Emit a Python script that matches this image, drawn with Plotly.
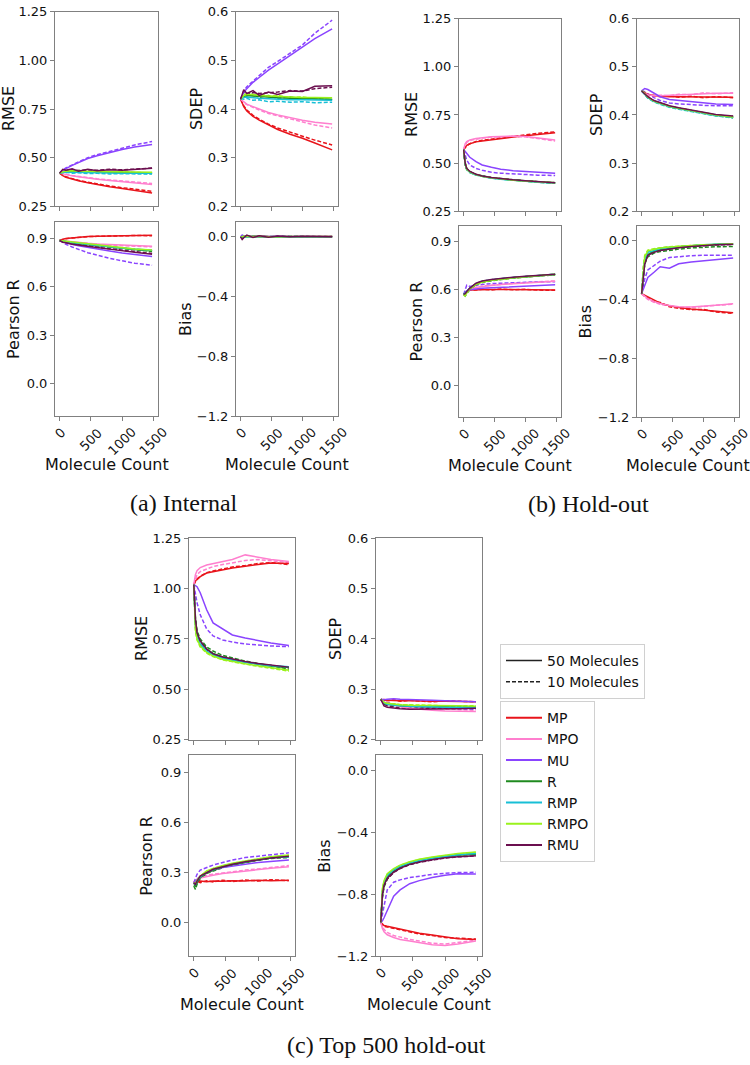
import plotly.graph_objects as go

# ---------------- data ----------------
MODELS = ["MP", "MPO", "MU", "R", "RMP", "RMPO", "RMU"]
COLORS = {"MP": "#e8141b", "MPO": "#ff7fce", "MU": "#8a44ff", "R": "#1f8a1f",
          "RMP": "#18bfd6", "RMPO": "#9af21c", "RMU": "#6b0f4f"}
X_COUNT = [0, 25, 50, 100, 200, 300, 450, 600, 800, 1000, 1200, 1480]
X_TICKS = [0, 500, 1000, 1500]

# ---- (a) Internal ----
A_RMSE_50 = {
    "MP":   [0.42, 0.413, 0.407, 0.399, 0.389, 0.381, 0.37, 0.36, 0.35, 0.341, 0.331, 0.318],
    "MPO":  [0.42, 0.418, 0.416, 0.412, 0.406, 0.401, 0.394, 0.388, 0.382, 0.377, 0.372, 0.362],
    "MU":   [0.42, 0.427, 0.433, 0.443, 0.46, 0.475, 0.495, 0.51, 0.527, 0.542, 0.555, 0.568],
    "R":    [0.42, 0.423, 0.425, 0.428, 0.43, 0.428, 0.426, 0.425, 0.424, 0.423, 0.422, 0.421],
    "RMP":  [0.42, 0.422, 0.424, 0.426, 0.425, 0.424, 0.422, 0.421, 0.42, 0.42, 0.419, 0.419],
    "RMPO": [0.42, 0.424, 0.427, 0.43, 0.432, 0.43, 0.429, 0.428, 0.427, 0.426, 0.425, 0.424],
    "RMU":  [0.42, 0.43, 0.44, 0.435, 0.442, 0.43, 0.44, 0.432, 0.438, 0.435, 0.44, 0.445],
}
A_RMSE_10 = {
    "MP":   [0.42, 0.414, 0.409, 0.401, 0.391, 0.383, 0.373, 0.364, 0.354, 0.345, 0.336, 0.326],
    "MPO":  [0.42, 0.419, 0.417, 0.414, 0.408, 0.403, 0.397, 0.391, 0.385, 0.379, 0.373, 0.367],
    "MU":   [0.42, 0.43, 0.436, 0.447, 0.462, 0.48, 0.5, 0.515, 0.533, 0.548, 0.565, 0.583],
    "R":    [0.42, 0.425, 0.428, 0.43, 0.427, 0.432, 0.425, 0.428, 0.423, 0.425, 0.42, 0.418],
    "RMP":  [0.42, 0.423, 0.422, 0.424, 0.42, 0.422, 0.418, 0.419, 0.416, 0.417, 0.415, 0.415],
    "RMPO": [0.42, 0.426, 0.43, 0.433, 0.429, 0.434, 0.428, 0.43, 0.425, 0.427, 0.423, 0.422],
    "RMU":  [0.42, 0.428, 0.435, 0.432, 0.438, 0.433, 0.436, 0.435, 0.44, 0.437, 0.442, 0.446],
}
A_SDEP_50 = {
    "MP":   [0.42, 0.412, 0.405, 0.396, 0.385, 0.377, 0.367, 0.358, 0.348, 0.34, 0.33, 0.316],
    "MPO":  [0.42, 0.417, 0.414, 0.41, 0.405, 0.4, 0.393, 0.388, 0.382, 0.377, 0.373, 0.369],
    "MU":   [0.42, 0.428, 0.434, 0.442, 0.455, 0.465, 0.48, 0.493, 0.51, 0.527, 0.545, 0.565],
    "R":    [0.42, 0.424, 0.426, 0.428, 0.427, 0.425, 0.424, 0.423, 0.422, 0.421, 0.421, 0.42],
    "RMP":  [0.42, 0.422, 0.424, 0.425, 0.423, 0.422, 0.421, 0.42, 0.419, 0.419, 0.418, 0.418],
    "RMPO": [0.42, 0.425, 0.428, 0.43, 0.43, 0.428, 0.427, 0.426, 0.425, 0.424, 0.424, 0.423],
    "RMU":  [0.42, 0.432, 0.44, 0.432, 0.438, 0.428, 0.435, 0.43, 0.437, 0.436, 0.447, 0.448],
}
A_SDEP_10 = {
    "MP":   [0.42, 0.413, 0.407, 0.398, 0.387, 0.379, 0.369, 0.361, 0.352, 0.344, 0.336, 0.326],
    "MPO":  [0.42, 0.416, 0.413, 0.409, 0.403, 0.398, 0.391, 0.386, 0.379, 0.373, 0.367, 0.361],
    "MU":   [0.42, 0.43, 0.437, 0.446, 0.458, 0.47, 0.486, 0.498, 0.515, 0.532, 0.556, 0.583],
    "R":    [0.42, 0.425, 0.43, 0.426, 0.431, 0.424, 0.428, 0.422, 0.425, 0.421, 0.422, 0.419],
    "RMP":  [0.42, 0.421, 0.42, 0.422, 0.418, 0.419, 0.415, 0.416, 0.414, 0.415, 0.413, 0.414],
    "RMPO": [0.42, 0.426, 0.43, 0.432, 0.428, 0.431, 0.426, 0.428, 0.423, 0.425, 0.421, 0.42],
    "RMU":  [0.42, 0.43, 0.436, 0.43, 0.434, 0.432, 0.433, 0.435, 0.438, 0.437, 0.442, 0.445],
}
A_PEARSON_50 = {
    "MP":   [0.885, 0.89, 0.893, 0.897, 0.902, 0.906, 0.91, 0.912, 0.914, 0.916, 0.917, 0.918],
    "MPO":  [0.885, 0.884, 0.882, 0.88, 0.876, 0.872, 0.868, 0.864, 0.86, 0.856, 0.853, 0.85],
    "MU":   [0.885, 0.882, 0.878, 0.872, 0.862, 0.853, 0.842, 0.832, 0.82, 0.808, 0.797, 0.786],
    "R":    [0.885, 0.883, 0.881, 0.878, 0.872, 0.867, 0.86, 0.853, 0.845, 0.837, 0.829, 0.82],
    "RMP":  [0.885, 0.883, 0.881, 0.878, 0.873, 0.868, 0.861, 0.855, 0.847, 0.839, 0.832, 0.825],
    "RMPO": [0.885, 0.884, 0.882, 0.879, 0.874, 0.869, 0.862, 0.856, 0.848, 0.84, 0.833, 0.826],
    "RMU":  [0.885, 0.88, 0.875, 0.872, 0.862, 0.858, 0.848, 0.842, 0.832, 0.824, 0.812, 0.8],
}
A_PEARSON_10 = {
    "MP":   [0.885, 0.889, 0.892, 0.896, 0.901, 0.905, 0.909, 0.911, 0.913, 0.915, 0.916, 0.915],
    "MPO":  [0.885, 0.883, 0.881, 0.878, 0.874, 0.87, 0.865, 0.861, 0.857, 0.853, 0.85, 0.846],
    "MU":   [0.885, 0.878, 0.872, 0.862, 0.845, 0.83, 0.81, 0.795, 0.775, 0.76, 0.745, 0.732],
    "R":    [0.885, 0.882, 0.88, 0.877, 0.87, 0.866, 0.858, 0.851, 0.843, 0.834, 0.826, 0.818],
    "RMP":  [0.885, 0.882, 0.88, 0.876, 0.871, 0.866, 0.86, 0.853, 0.846, 0.838, 0.83, 0.824],
    "RMPO": [0.885, 0.883, 0.881, 0.878, 0.872, 0.867, 0.86, 0.854, 0.846, 0.838, 0.831, 0.823],
    "RMU":  [0.885, 0.881, 0.877, 0.873, 0.865, 0.858, 0.85, 0.843, 0.834, 0.825, 0.815, 0.805],
}
A_BIAS_50 = {
    "MP":   [0.0, 0.004, 0.002, 0.003, 0.001, 0.002, 0.001, 0.002, 0.001, 0.002, 0.001, 0.001],
    "MPO":  [0.0, 0.002, 0.003, 0.001, 0.002, 0.001, 0.002, 0.001, 0.002, 0.001, 0.001, 0.002],
    "MU":   [0.0, 0.01, 0.006, 0.004, 0.003, 0.002, 0.004, 0.002, 0.003, 0.002, 0.003, 0.002],
    "R":    [0.0, -0.004, 0.002, 0.003, 0.0, 0.002, 0.001, 0.0, 0.002, 0.001, 0.0, 0.001],
    "RMP":  [0.0, 0.002, -0.002, 0.001, 0.002, 0.0, 0.001, 0.002, 0.0, 0.001, 0.001, 0.0],
    "RMPO": [0.0, 0.003, 0.004, 0.002, 0.001, 0.003, 0.002, 0.001, 0.002, 0.002, 0.001, 0.002],
    "RMU":  [0.0, -0.018, -0.006, 0.012, -0.004, 0.008, -0.002, 0.006, 0.0, 0.004, 0.002, 0.001],
}
A_BIAS_10 = {
    "MP":   [0.0, 0.006, 0.003, 0.005, 0.002, 0.004, 0.001, 0.003, 0.002, 0.003, 0.001, 0.002],
    "MPO":  [0.0, 0.003, 0.005, 0.002, 0.004, 0.002, 0.003, 0.001, 0.003, 0.002, 0.002, 0.003],
    "MU":   [0.0, 0.012, 0.008, 0.005, 0.004, 0.003, 0.005, 0.003, 0.004, 0.003, 0.004, 0.003],
    "R":    [0.0, -0.006, 0.004, 0.005, -0.002, 0.003, 0.001, -0.001, 0.003, 0.001, 0.0, 0.002],
    "RMP":  [0.0, 0.004, -0.004, 0.002, 0.003, -0.001, 0.002, 0.003, 0.0, 0.002, 0.001, 0.001],
    "RMPO": [0.0, 0.005, 0.006, 0.003, 0.002, 0.004, 0.003, 0.002, 0.003, 0.002, 0.002, 0.003],
    "RMU":  [0.0, -0.012, -0.004, 0.008, -0.003, 0.006, -0.001, 0.004, 0.001, 0.003, 0.002, 0.002],
}

# ---- (b) Hold-out ----
B_RMSE_50 = {
    "MP":   [0.57, 0.585, 0.592, 0.6, 0.61, 0.615, 0.622, 0.628, 0.635, 0.642, 0.65, 0.658],
    "MPO":  [0.57, 0.6, 0.612, 0.62, 0.628, 0.632, 0.636, 0.638, 0.64, 0.638, 0.63, 0.62],
    "MU":   [0.57, 0.56, 0.548, 0.53, 0.507, 0.49, 0.478, 0.468, 0.46, 0.456, 0.452, 0.447],
    "R":    [0.57, 0.5, 0.47, 0.455, 0.44, 0.432, 0.424, 0.418, 0.412, 0.407, 0.402, 0.397],
    "RMP":  [0.57, 0.495, 0.468, 0.452, 0.438, 0.43, 0.422, 0.416, 0.41, 0.405, 0.4, 0.396],
    "RMPO": [0.57, 0.5, 0.47, 0.454, 0.44, 0.431, 0.423, 0.417, 0.411, 0.406, 0.401, 0.397],
    "RMU":  [0.57, 0.5, 0.472, 0.456, 0.442, 0.433, 0.425, 0.419, 0.413, 0.408, 0.403, 0.398],
}
B_RMSE_10 = {
    "MP":   [0.57, 0.58, 0.59, 0.6, 0.612, 0.618, 0.624, 0.63, 0.638, 0.645, 0.655, 0.662],
    "MPO":  [0.57, 0.595, 0.608, 0.618, 0.625, 0.63, 0.635, 0.637, 0.638, 0.636, 0.628, 0.615],
    "MU":   [0.57, 0.54, 0.515, 0.49, 0.472, 0.462, 0.452, 0.447, 0.443, 0.44, 0.437, 0.435],
    "R":    [0.57, 0.49, 0.468, 0.452, 0.44, 0.431, 0.423, 0.418, 0.411, 0.406, 0.401, 0.395],
    "RMP":  [0.57, 0.49, 0.465, 0.45, 0.437, 0.429, 0.421, 0.416, 0.41, 0.405, 0.4, 0.395],
    "RMPO": [0.57, 0.488, 0.466, 0.451, 0.438, 0.43, 0.422, 0.417, 0.41, 0.406, 0.4, 0.396],
    "RMU":  [0.57, 0.495, 0.47, 0.455, 0.441, 0.432, 0.424, 0.418, 0.412, 0.407, 0.402, 0.398],
}
B_SDEP_50 = {
    "MP":   [0.45, 0.448, 0.446, 0.443, 0.44, 0.439, 0.438, 0.438, 0.438, 0.438, 0.437, 0.437],
    "MPO":  [0.45, 0.447, 0.445, 0.442, 0.44, 0.44, 0.441, 0.442, 0.443, 0.444, 0.445, 0.445],
    "MU":   [0.45, 0.452, 0.455, 0.453, 0.445, 0.438, 0.432, 0.43, 0.427, 0.425, 0.423, 0.422],
    "R":    [0.45, 0.447, 0.443, 0.437, 0.429, 0.424, 0.418, 0.414, 0.409, 0.404, 0.4, 0.396],
    "RMP":  [0.45, 0.446, 0.442, 0.436, 0.428, 0.423, 0.417, 0.413, 0.408, 0.403, 0.399, 0.395],
    "RMPO": [0.45, 0.448, 0.444, 0.437, 0.429, 0.424, 0.418, 0.414, 0.409, 0.404, 0.4, 0.396],
    "RMU":  [0.45, 0.447, 0.443, 0.438, 0.43, 0.425, 0.419, 0.415, 0.41, 0.405, 0.401, 0.398],
}
B_SDEP_10 = {
    "MP":   [0.45, 0.447, 0.444, 0.44, 0.441, 0.438, 0.44, 0.437, 0.439, 0.436, 0.438, 0.436],
    "MPO":  [0.45, 0.446, 0.444, 0.441, 0.439, 0.441, 0.44, 0.443, 0.442, 0.446, 0.444, 0.446],
    "MU":   [0.45, 0.45, 0.448, 0.444, 0.436, 0.43, 0.425, 0.423, 0.421, 0.42, 0.419, 0.419],
    "R":    [0.45, 0.448, 0.444, 0.436, 0.428, 0.423, 0.417, 0.413, 0.408, 0.403, 0.399, 0.394],
    "RMP":  [0.45, 0.447, 0.443, 0.435, 0.427, 0.422, 0.416, 0.412, 0.407, 0.402, 0.398, 0.394],
    "RMPO": [0.45, 0.449, 0.445, 0.437, 0.428, 0.423, 0.417, 0.413, 0.408, 0.403, 0.399, 0.395],
    "RMU":  [0.45, 0.448, 0.444, 0.437, 0.429, 0.424, 0.418, 0.414, 0.409, 0.404, 0.4, 0.397],
}
B_PEARSON_50 = {
    "MP":   [0.57, 0.58, 0.59, 0.598, 0.6, 0.6, 0.601, 0.601, 0.6, 0.6, 0.599, 0.598],
    "MPO":  [0.57, 0.58, 0.59, 0.6, 0.613, 0.62, 0.627, 0.632, 0.637, 0.642, 0.647, 0.652],
    "MU":   [0.57, 0.58, 0.59, 0.6, 0.605, 0.608, 0.612, 0.615, 0.62, 0.624, 0.627, 0.63],
    "R":    [0.57, 0.575, 0.585, 0.605, 0.635, 0.65, 0.66, 0.667, 0.674, 0.68, 0.687, 0.695],
    "RMP":  [0.57, 0.58, 0.59, 0.61, 0.638, 0.652, 0.662, 0.669, 0.676, 0.682, 0.689, 0.697],
    "RMPO": [0.57, 0.565, 0.58, 0.605, 0.633, 0.648, 0.659, 0.667, 0.674, 0.681, 0.688, 0.696],
    "RMU":  [0.57, 0.575, 0.588, 0.61, 0.64, 0.654, 0.664, 0.671, 0.678, 0.684, 0.69, 0.697],
}
B_PEARSON_10 = {
    "MP":   [0.57, 0.585, 0.595, 0.6, 0.597, 0.603, 0.598, 0.604, 0.599, 0.602, 0.597, 0.596],
    "MPO":  [0.57, 0.585, 0.595, 0.605, 0.615, 0.622, 0.628, 0.634, 0.639, 0.644, 0.649, 0.655],
    "MU":   [0.57, 0.6, 0.628, 0.62, 0.628, 0.633, 0.638, 0.641, 0.644, 0.646, 0.648, 0.65],
    "R":    [0.57, 0.56, 0.575, 0.6, 0.63, 0.645, 0.656, 0.664, 0.672, 0.679, 0.686, 0.693],
    "RMP":  [0.57, 0.575, 0.585, 0.607, 0.636, 0.65, 0.66, 0.668, 0.675, 0.681, 0.688, 0.696],
    "RMPO": [0.57, 0.56, 0.578, 0.603, 0.632, 0.647, 0.658, 0.666, 0.673, 0.68, 0.687, 0.695],
    "RMU":  [0.57, 0.572, 0.585, 0.607, 0.637, 0.652, 0.662, 0.669, 0.676, 0.682, 0.689, 0.696],
}
B_BIAS_50 = {
    "MP":   [-0.36, -0.365, -0.37, -0.385, -0.405, -0.425, -0.443, -0.455, -0.465, -0.472, -0.48, -0.49],
    "MPO":  [-0.36, -0.37, -0.38, -0.395, -0.415, -0.428, -0.442, -0.45, -0.452, -0.448, -0.44, -0.43],
    "MU":   [-0.36, -0.33, -0.3, -0.25, -0.215, -0.178, -0.188, -0.158, -0.145, -0.138, -0.13, -0.118],
    "R":    [-0.36, -0.25, -0.15, -0.095, -0.072, -0.062, -0.052, -0.045, -0.037, -0.03, -0.026, -0.022],
    "RMP":  [-0.36, -0.22, -0.13, -0.08, -0.065, -0.055, -0.047, -0.041, -0.035, -0.029, -0.025, -0.021],
    "RMPO": [-0.36, -0.2, -0.11, -0.07, -0.058, -0.05, -0.044, -0.039, -0.034, -0.029, -0.026, -0.022],
    "RMU":  [-0.36, -0.26, -0.16, -0.1, -0.08, -0.068, -0.056, -0.048, -0.04, -0.033, -0.029, -0.025],
}
B_BIAS_10 = {
    "MP":   [-0.36, -0.37, -0.378, -0.39, -0.415, -0.42, -0.45, -0.46, -0.47, -0.468, -0.485, -0.495],
    "MPO":  [-0.36, -0.372, -0.383, -0.4, -0.42, -0.433, -0.445, -0.455, -0.455, -0.45, -0.44, -0.432],
    "MU":   [-0.36, -0.3, -0.26, -0.2, -0.17, -0.14, -0.115, -0.108, -0.103, -0.1, -0.098, -0.1],
    "R":    [-0.36, -0.24, -0.16, -0.11, -0.085, -0.075, -0.065, -0.058, -0.05, -0.045, -0.042, -0.04],
    "RMP":  [-0.36, -0.2, -0.12, -0.075, -0.06, -0.05, -0.045, -0.04, -0.035, -0.03, -0.027, -0.024],
    "RMPO": [-0.36, -0.18, -0.1, -0.065, -0.055, -0.048, -0.042, -0.038, -0.033, -0.029, -0.026, -0.023],
    "RMU":  [-0.36, -0.24, -0.15, -0.095, -0.075, -0.064, -0.054, -0.047, -0.039, -0.033, -0.03, -0.027],
}

# ---- (c) Top 500 hold-out ----
C_RMSE_50 = {
    "MP":   [1.02, 1.04, 1.045, 1.06, 1.078, 1.085, 1.095, 1.103, 1.112, 1.12, 1.128, 1.125],
    "MPO":  [1.02, 1.07, 1.09, 1.105, 1.118, 1.125, 1.135, 1.145, 1.168, 1.155, 1.145, 1.135],
    "MU":   [1.02, 1.015, 1.01, 0.98, 0.895, 0.83, 0.8, 0.77, 0.755, 0.742, 0.73, 0.718],
    "R":    [1.02, 0.84, 0.78, 0.74, 0.7, 0.678, 0.66, 0.648, 0.637, 0.626, 0.617, 0.608],
    "RMP":  [1.02, 0.82, 0.76, 0.725, 0.69, 0.672, 0.655, 0.645, 0.634, 0.625, 0.618, 0.612],
    "RMPO": [1.02, 0.8, 0.75, 0.715, 0.683, 0.665, 0.648, 0.638, 0.627, 0.617, 0.606, 0.594],
    "RMU":  [1.02, 0.85, 0.78, 0.74, 0.7, 0.676, 0.66, 0.65, 0.638, 0.628, 0.619, 0.61],
}
C_RMSE_10 = {
    "MP":   [1.02, 1.035, 1.048, 1.062, 1.08, 1.088, 1.098, 1.108, 1.115, 1.125, 1.13, 1.12],
    "MPO":  [1.02, 1.05, 1.07, 1.085, 1.098, 1.11, 1.12, 1.13, 1.14, 1.145, 1.14, 1.13],
    "MU":   [1.02, 0.98, 0.93, 0.87, 0.8, 0.765, 0.745, 0.735, 0.725, 0.72, 0.715, 0.712],
    "R":    [1.02, 0.86, 0.79, 0.75, 0.71, 0.69, 0.668, 0.655, 0.64, 0.628, 0.615, 0.6],
    "RMP":  [1.02, 0.81, 0.755, 0.72, 0.688, 0.668, 0.652, 0.642, 0.632, 0.622, 0.614, 0.61],
    "RMPO": [1.02, 0.79, 0.745, 0.71, 0.68, 0.662, 0.646, 0.636, 0.625, 0.614, 0.603, 0.59],
    "RMU":  [1.02, 0.84, 0.775, 0.735, 0.697, 0.675, 0.658, 0.648, 0.636, 0.626, 0.617, 0.608],
}
C_SDEP_50 = {
    "MP":   [0.28, 0.279, 0.278, 0.278, 0.277, 0.277, 0.277, 0.276, 0.276, 0.276, 0.275, 0.275],
    "MPO":  [0.28, 0.277, 0.275, 0.272, 0.268, 0.265, 0.262, 0.26, 0.258, 0.257, 0.256, 0.256],
    "MU":   [0.28, 0.279, 0.279, 0.28, 0.281, 0.28, 0.279, 0.278, 0.278, 0.277, 0.276, 0.275],
    "R":    [0.28, 0.275, 0.272, 0.27, 0.268, 0.267, 0.266, 0.266, 0.265, 0.265, 0.264, 0.264],
    "RMP":  [0.28, 0.276, 0.273, 0.27, 0.268, 0.267, 0.266, 0.265, 0.265, 0.264, 0.264, 0.264],
    "RMPO": [0.28, 0.276, 0.274, 0.272, 0.27, 0.269, 0.268, 0.268, 0.267, 0.267, 0.267, 0.266],
    "RMU":  [0.28, 0.272, 0.267, 0.264, 0.262, 0.261, 0.26, 0.26, 0.26, 0.261, 0.261, 0.262],
}
C_SDEP_10 = {
    "MP":   [0.28, 0.278, 0.28, 0.277, 0.279, 0.276, 0.278, 0.277, 0.275, 0.277, 0.276, 0.275],
    "MPO":  [0.28, 0.278, 0.276, 0.274, 0.27, 0.268, 0.266, 0.264, 0.262, 0.261, 0.26, 0.258],
    "MU":   [0.28, 0.277, 0.275, 0.273, 0.27, 0.268, 0.266, 0.265, 0.264, 0.263, 0.262, 0.26],
    "R":    [0.28, 0.276, 0.274, 0.271, 0.27, 0.268, 0.268, 0.267, 0.266, 0.266, 0.265, 0.265],
    "RMP":  [0.28, 0.275, 0.272, 0.27, 0.267, 0.266, 0.265, 0.265, 0.264, 0.264, 0.263, 0.263],
    "RMPO": [0.28, 0.277, 0.275, 0.272, 0.27, 0.269, 0.269, 0.268, 0.268, 0.267, 0.267, 0.267],
    "RMU":  [0.28, 0.274, 0.27, 0.267, 0.265, 0.263, 0.262, 0.262, 0.262, 0.262, 0.262, 0.262],
}
C_PEARSON_50 = {
    "MP":   [0.24, 0.25, 0.245, 0.25, 0.245, 0.25, 0.248, 0.252, 0.25, 0.255, 0.252, 0.255],
    "MPO":  [0.24, 0.25, 0.26, 0.268, 0.278, 0.285, 0.295, 0.302, 0.31, 0.318, 0.326, 0.335],
    "MU":   [0.24, 0.25, 0.265, 0.28, 0.3, 0.315, 0.33, 0.34, 0.35, 0.36, 0.368, 0.375],
    "R":    [0.23, 0.22, 0.24, 0.27, 0.3, 0.315, 0.335, 0.348, 0.362, 0.378, 0.39, 0.395],
    "RMP":  [0.24, 0.23, 0.25, 0.275, 0.305, 0.32, 0.338, 0.352, 0.366, 0.38, 0.39, 0.395],
    "RMPO": [0.24, 0.235, 0.255, 0.28, 0.31, 0.325, 0.342, 0.356, 0.37, 0.384, 0.395, 0.405],
    "RMU":  [0.24, 0.23, 0.25, 0.28, 0.3, 0.32, 0.335, 0.35, 0.365, 0.378, 0.388, 0.398],
}
C_PEARSON_10 = {
    "MP":   [0.24, 0.235, 0.25, 0.24, 0.252, 0.244, 0.255, 0.247, 0.256, 0.25, 0.258, 0.252],
    "MPO":  [0.24, 0.255, 0.265, 0.275, 0.285, 0.29, 0.298, 0.305, 0.315, 0.322, 0.33, 0.342],
    "MU":   [0.24, 0.27, 0.29, 0.315, 0.33, 0.345, 0.36, 0.375, 0.39, 0.398, 0.405, 0.418],
    "R":    [0.22, 0.2, 0.23, 0.265, 0.295, 0.31, 0.33, 0.345, 0.36, 0.375, 0.385, 0.39],
    "RMP":  [0.24, 0.225, 0.245, 0.272, 0.302, 0.318, 0.336, 0.35, 0.364, 0.378, 0.389, 0.396],
    "RMPO": [0.24, 0.23, 0.25, 0.278, 0.308, 0.324, 0.34, 0.355, 0.369, 0.383, 0.394, 0.404],
    "RMU":  [0.24, 0.228, 0.248, 0.277, 0.299, 0.318, 0.334, 0.349, 0.364, 0.377, 0.387, 0.396],
}
C_BIAS_50 = {
    "MP":   [-0.98, -0.99, -1.0, -1.005, -1.015, -1.025, -1.04, -1.05, -1.062, -1.075, -1.085, -1.09],
    "MPO":  [-0.98, -1.02, -1.04, -1.06, -1.078, -1.09, -1.1, -1.11, -1.125, -1.13, -1.12, -1.1],
    "MU":   [-0.98, -0.97, -0.95, -0.9, -0.81, -0.77, -0.73, -0.71, -0.69, -0.675, -0.665, -0.667],
    "R":    [-0.98, -0.8, -0.74, -0.69, -0.65, -0.625, -0.6, -0.585, -0.568, -0.555, -0.545, -0.54],
    "RMP":  [-0.98, -0.78, -0.72, -0.675, -0.64, -0.618, -0.595, -0.58, -0.565, -0.552, -0.542, -0.535],
    "RMPO": [-0.98, -0.76, -0.71, -0.665, -0.632, -0.61, -0.588, -0.572, -0.558, -0.545, -0.535, -0.525],
    "RMU":  [-0.98, -0.8, -0.74, -0.695, -0.655, -0.63, -0.605, -0.59, -0.575, -0.562, -0.555, -0.55],
}
C_BIAS_10 = {
    "MP":   [-0.98, -1.0, -1.005, -1.01, -1.02, -1.03, -1.045, -1.055, -1.065, -1.078, -1.082, -1.088],
    "MPO":  [-0.98, -1.01, -1.025, -1.045, -1.065, -1.075, -1.09, -1.1, -1.115, -1.12, -1.11, -1.095],
    "MU":   [-0.98, -0.93, -0.88, -0.77, -0.72, -0.705, -0.69, -0.68, -0.67, -0.663, -0.658, -0.656],
    "R":    [-0.98, -0.82, -0.75, -0.7, -0.655, -0.63, -0.605, -0.59, -0.57, -0.556, -0.545, -0.537],
    "RMP":  [-0.98, -0.79, -0.73, -0.68, -0.645, -0.62, -0.597, -0.582, -0.566, -0.553, -0.543, -0.536],
    "RMPO": [-0.98, -0.77, -0.715, -0.67, -0.635, -0.612, -0.59, -0.574, -0.56, -0.547, -0.537, -0.528],
    "RMU":  [-0.98, -0.81, -0.745, -0.7, -0.658, -0.632, -0.607, -0.592, -0.577, -0.564, -0.556, -0.551],
}

# Axis settings per metric: range, tick values, tick text
METRIC_AXES = {
    "RMSE":      ([0.25, 1.25], [0.25, 0.5, 0.75, 1.0, 1.25], ["0.25", "0.50", "0.75", "1.00", "1.25"]),
    "SDEP":      ([0.2, 0.6], [0.2, 0.3, 0.4, 0.5, 0.6], ["0.2", "0.3", "0.4", "0.5", "0.6"]),
    "Pearson R": ([-0.2, 1.0], [0.0, 0.3, 0.6, 0.9], ["0.0", "0.3", "0.6", "0.9"]),
    "Bias":      ([-1.2, 0.1], [-1.2, -0.8, -0.4, 0.0], ["\u22121.2", "\u22120.8", "\u22120.4", "0.0"]),
}

PANELS = [
    ("a", {"RMSE": (A_RMSE_50, A_RMSE_10), "SDEP": (A_SDEP_50, A_SDEP_10),
           "Pearson R": (A_PEARSON_50, A_PEARSON_10), "Bias": (A_BIAS_50, A_BIAS_10)}),
    ("b", {"RMSE": (B_RMSE_50, B_RMSE_10), "SDEP": (B_SDEP_50, B_SDEP_10),
           "Pearson R": (B_PEARSON_50, B_PEARSON_10), "Bias": (B_BIAS_50, B_BIAS_10)}),
    ("c", {"RMSE": (C_RMSE_50, C_RMSE_10), "SDEP": (C_SDEP_50, C_SDEP_10),
           "Pearson R": (C_PEARSON_50, C_PEARSON_10), "Bias": (C_BIAS_50, C_BIAS_10)}),
]
CAPTIONS = {"a": "(a) Internal", "b": "(b) Hold-out", "c": "(c) Top 500 hold-out"}

# ---------------- layout geometry (pixels) ----------------
W, H = 750, 1065
BOXES = {
    ("a", "RMSE"): (55, 158, 5, 202), ("a", "SDEP"): (236, 338, 5, 202),
    ("a", "Pearson R"): (55, 158, 218, 415), ("a", "Bias"): (236, 338, 218, 415),
    ("b", "RMSE"): (459, 561, 12, 207), ("b", "SDEP"): (637, 739, 12, 207),
    ("b", "Pearson R"): (459, 561, 222, 416), ("b", "Bias"): (637, 739, 222, 416),
    ("c", "RMSE"): (189, 295, 539, 743), ("c", "SDEP"): (376, 482, 539, 743),
    ("c", "Pearson R"): (189, 295, 759, 963), ("c", "Bias"): (376, 482, 759, 963),
}
YTITLE_OFFSET = {"RMSE": 47, "SDEP": 40, "Pearson R": 42, "Bias": 51}
CAPTION_POS = {"a": (184, 503), "b": (588, 504), "c": (386, 1053)}

SANS = "DejaVu Sans"
SERIF = "Liberation Serif"
FRAME = "#808080"
LW = 1.5

fig = go.Figure()
layout = dict(width=W, height=H, margin=dict(l=0, r=0, t=0, b=0),
              paper_bgcolor="white", plot_bgcolor="white", showlegend=True)
annotations = []

k = 0
for panel, metrics in PANELS:
    for metric in ["RMSE", "SDEP", "Pearson R", "Bias"]:
        k += 1
        xn = "x" if k == 1 else f"x{k}"
        yn = "y" if k == 1 else f"y{k}"
        x0, x1, y0, y1 = BOXES[(panel, metric)]
        yrange, yticks, ytext = METRIC_AXES[metric]
        layout["xaxis" if k == 1 else f"xaxis{k}"] = dict(
            domain=[x0 / W, x1 / W], anchor=yn, range=[-75, 1575],
            tickvals=X_TICKS, showticklabels=False, ticks="outside", ticklen=4,
            tickcolor=FRAME, tickwidth=1, showline=True, linecolor=FRAME, linewidth=1,
            mirror=True, showgrid=False, zeroline=False)
        layout["yaxis" if k == 1 else f"yaxis{k}"] = dict(
            domain=[1 - y1 / H, 1 - y0 / H], anchor=xn, range=yrange,
            tickvals=yticks, ticktext=ytext, ticks="outside", ticklen=4,
            tickcolor=FRAME, tickwidth=1, showline=True, linecolor=FRAME, linewidth=1,
            mirror=True, showgrid=False, zeroline=False,
            tickfont=dict(family=SANS, size=13, color="#111"))
        d50, d10 = metrics[metric]
        for m in MODELS:
            fig.add_trace(go.Scatter(x=X_COUNT, y=d10[m], mode="lines", xaxis=xn, yaxis=yn,
                                     line=dict(color=COLORS[m], width=LW, dash="4px,2px"),
                                     showlegend=False, hoverinfo="skip"))
        for m in MODELS:
            fig.add_trace(go.Scatter(x=X_COUNT, y=d50[m], mode="lines", xaxis=xn, yaxis=yn,
                                     line=dict(color=COLORS[m], width=LW),
                                     showlegend=False, hoverinfo="skip"))
        # y-axis title
        annotations.append(dict(text=metric, xref=f"{xn} domain", yref=f"{yn} domain",
                                x=0, y=0.5, xshift=-YTITLE_OFFSET[metric], textangle=-90,
                                xanchor="center", yanchor="middle", showarrow=False,
                                font=dict(family=SANS, size=16, color="#111")))
        if metric in ("Pearson R", "Bias"):
            for tv in X_TICKS:
                annotations.append(dict(text=str(tv), xref=xn, yref=f"{yn} domain",
                                        x=tv, y=0, yshift=-6, textangle=-45,
                                        xanchor="center", yanchor="top", showarrow=False,
                                        font=dict(family=SANS, size=13, color="#111")))
            annotations.append(dict(text="Molecule Count", xref=f"{xn} domain",
                                    yref=f"{yn} domain", x=0.5, y=0, yshift=-48,
                                    xanchor="center", yanchor="middle", showarrow=False,
                                    font=dict(family=SANS, size=16, color="#111")))

for panel, (cx, cy) in CAPTION_POS.items():
    annotations.append(dict(text=CAPTIONS[panel], xref="paper", yref="paper",
                            x=cx / W, y=1 - cy / H, xanchor="center", yanchor="middle",
                            showarrow=False, font=dict(family=SERIF, size=24, color="#111")))

# legend entries
fig.add_trace(go.Scatter(x=[None], y=[None], mode="lines", name="50 Molecules",
                         line=dict(color="#222", width=1.5), legend="legend"))
fig.add_trace(go.Scatter(x=[None], y=[None], mode="lines", name="10 Molecules",
                         line=dict(color="#222", width=1.5, dash="4px,2px"), legend="legend"))
for m in MODELS:
    fig.add_trace(go.Scatter(x=[None], y=[None], mode="lines", name=m,
                             line=dict(color=COLORS[m], width=2), legend="legend2"))

layout["legend"] = dict(x=500 / W, y=1 - 646 / H, xanchor="left", yanchor="top",
                        bgcolor="white", bordercolor="#d0d0d0", borderwidth=1,
                        font=dict(family=SANS, size=14, color="#111"), itemwidth=36)
layout["legend2"] = dict(x=500 / W, y=1 - 704 / H, xanchor="left", yanchor="top",
                         bgcolor="white", bordercolor="#d0d0d0", borderwidth=1,
                         font=dict(family=SANS, size=14, color="#111"), itemwidth=36)
layout["annotations"] = annotations
fig.update_layout(**layout)
fig.write_html("out.html")
